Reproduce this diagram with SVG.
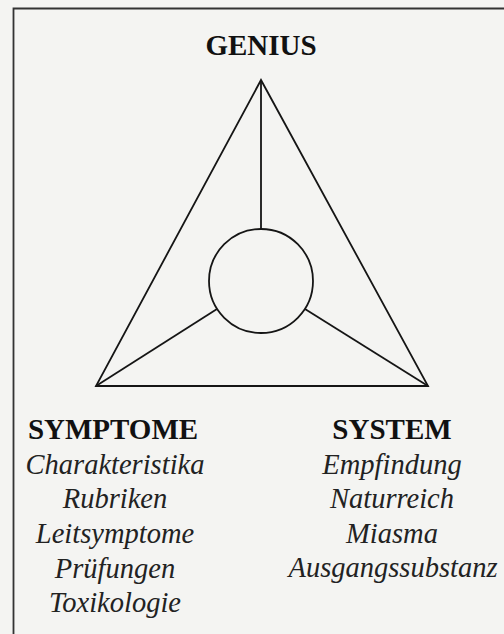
<svg xmlns="http://www.w3.org/2000/svg" width="504" height="634" viewBox="0 0 504 634">
<style>
.ln{fill:none;stroke:#151515;stroke-width:1.8;stroke-linejoin:miter}
.hd{font-family:"Liberation Serif","Times New Roman",serif;font-weight:bold;font-size:29px;fill:#111;text-anchor:middle}
.it{font-family:"Liberation Serif","Times New Roman",serif;font-style:italic;font-size:28.5px;fill:#222;text-anchor:middle}
</style>
<rect x="0" y="0" width="504" height="634" fill="#f4f4f2"/>
<path d="M504,8.5 H13.5 V634" fill="none" stroke="#333" stroke-width="1.8"/>
<g id="connectors">
<polygon class="ln" points="261,80 96,386 428,386"/>
<line class="ln" x1="261" y1="80" x2="261" y2="229"/>
<line class="ln" x1="96" y1="386" x2="217" y2="309"/>
<line class="ln" x1="428" y1="386" x2="305" y2="309"/>
</g>
<g id="center">
<circle class="ln" cx="261" cy="281" r="52"/>
</g>
<g id="genius">
<text class="hd" x="261" y="55">GENIUS</text>
</g>
<g id="symptome">
<text class="hd" x="113" y="439">SYMPTOME</text>
<text class="it" x="115" y="474">Charakteristika</text>
<text class="it" x="115" y="508">Rubriken</text>
<text class="it" x="115" y="543">Leitsymptome</text>
<text class="it" x="115" y="578">Prüfungen</text>
<text class="it" x="115" y="612">Toxikologie</text>
</g>
<g id="system">
<text class="hd" x="392" y="439">SYSTEM</text>
<text class="it" x="392" y="474">Empfindung</text>
<text class="it" x="392" y="508">Naturreich</text>
<text class="it" x="392" y="543">Miasma</text>
<text class="it" x="393" y="577">Ausgangssubstanz</text>
</g>
</svg>
